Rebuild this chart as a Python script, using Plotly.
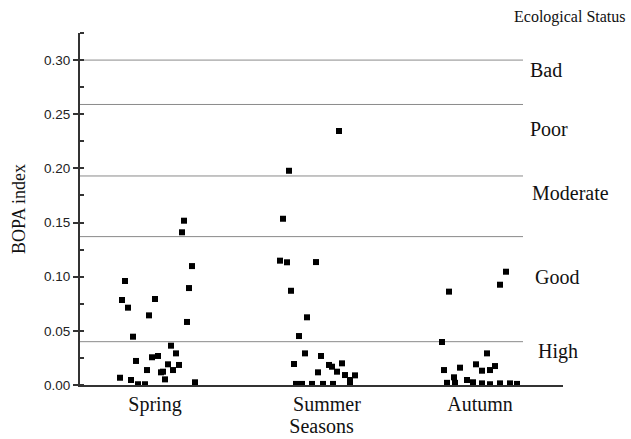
import plotly.graph_objects as go

# ---- data ----
seasons = ["Spring", "Summer", "Autumn"]
season_pos = [75, 247, 400]  # category centre positions on the x scale

spring_offset = [29, 27, 37, -30, 34, -33, -27, 0, -6, 32, -22, 16, 21, -19, -3, 3, 13, 24,
                 -8, 6, 8, 18, 10, -35, -24, -17, -10, 40]
spring_bopa = [0.1517, 0.141, 0.1098, 0.096, 0.0895, 0.0785, 0.0714, 0.0794, 0.0643, 0.0582,
               0.0446, 0.0363, 0.0292, 0.0222, 0.0256, 0.0268, 0.0191, 0.0185, 0.0138, 0.0117,
               0.0123, 0.0138, 0.0052, 0.0067, 0.0046, 0.0007, 0.0007, 0.0025]

summer_offset = [12, -38, -44, -47, -40, -11, -36, -20, -28, -22, -6, -33, 2, 5, 15, -9, 10,
                 18, 28, 23, 23, -31, -25, -15, -4, 6]
summer_bopa = [0.2345, 0.1978, 0.1535, 0.1148, 0.1133, 0.1135, 0.087, 0.0625, 0.0452, 0.0292,
               0.0268, 0.0194, 0.0185, 0.0169, 0.02, 0.0117, 0.0123, 0.0092, 0.0089, 0.0046,
               0.0015, 0.001, 0.001, 0.001, 0.001, 0.001]

autumn_offset = [26, 20, -31, -38, 7, -36, -20, -4, 2, 10, 15, -26, -33, -25, -13, -7, 2, 10,
                 20, 30, 37]
autumn_bopa = [0.1046, 0.0926, 0.0862, 0.0397, 0.0292, 0.0138, 0.016, 0.0191, 0.0132, 0.0138,
               0.0175, 0.0071, 0.002, 0.002, 0.0046, 0.0025, 0.0015, 0.0007, 0.0015, 0.0015,
               0.001]

thresholds = [0.040, 0.137, 0.193, 0.259, 0.30]
status_labels = ["High", "Good", "Moderate", "Poor", "Bad"]
status_label_y = [0.0305, 0.0997, 0.1772, 0.2363, 0.2908]
status_label_x = [456, 453, 450, 448, 448]

y_ticks = [0.00, 0.05, 0.10, 0.15, 0.20, 0.25, 0.30]

# ---- figure ----
fig = go.Figure()
offsets = [spring_offset, summer_offset, autumn_offset]
values = [spring_bopa, summer_bopa, autumn_bopa]
for pos, off, val, name in zip(season_pos, offsets, values, seasons):
    fig.add_trace(go.Scatter(
        x=[pos + o for o in off], y=val, mode="markers", name=name,
        marker=dict(symbol="square", size=6, color="black", line=dict(width=0)),
        showlegend=False,
    ))

for t in thresholds:
    fig.add_shape(type="line", xref="x", yref="y", x0=0, x1=443, y0=t, y1=t,
                  line=dict(color="#8a8a8a", width=1), layer="below")

serif = "Liberation Serif, Times New Roman, serif"
sans = "Liberation Sans, Arial, sans-serif"

for lab, lx, ly in zip(status_labels, status_label_x, status_label_y):
    fig.add_annotation(x=lx, y=ly, xref="x", yref="y", text=lab, showarrow=False,
                       xanchor="left", yanchor="middle",
                       font=dict(family=serif, size=20, color="#111"))

fig.add_annotation(x=1.1346, y=1.045, xref="paper", yref="paper", text="Ecological Status",
                   showarrow=False, xanchor="right", yanchor="middle",
                   font=dict(family=serif, size=16, color="#111"))

fig.update_layout(
    width=631, height=439,
    margin=dict(l=80, r=68, t=33, b=54),
    paper_bgcolor="white", plot_bgcolor="white",
    template="none",
    xaxis=dict(
        range=[0, 483], tickvals=season_pos, ticktext=seasons, ticks="",
        showgrid=False, zeroline=False, showline=True, linecolor="#333", linewidth=2,
        tickfont=dict(family=serif, size=20, color="#111"),
        title=dict(text="Seasons", font=dict(family=serif, size=20, color="#111"), standoff=2),
    ),
    yaxis=dict(
        range=[0, 0.325], tickvals=y_ticks, tickformat=".2f", ticks="outside", ticklen=5,
        tickwidth=1.5, tickcolor="#333",
        minor=dict(dtick=0.025, tick0=0, ticks="inside", ticklen=4, tickcolor="#333", showgrid=False),
        showgrid=False, zeroline=False, showline=True, linecolor="#333", linewidth=2,
        tickfont=dict(family=sans, size=13.5, color="#222"),
        title=dict(text="BOPA index", font=dict(family=serif, size=18, color="#111"), standoff=14),
    ),
)

fig.write_html("out.html")
